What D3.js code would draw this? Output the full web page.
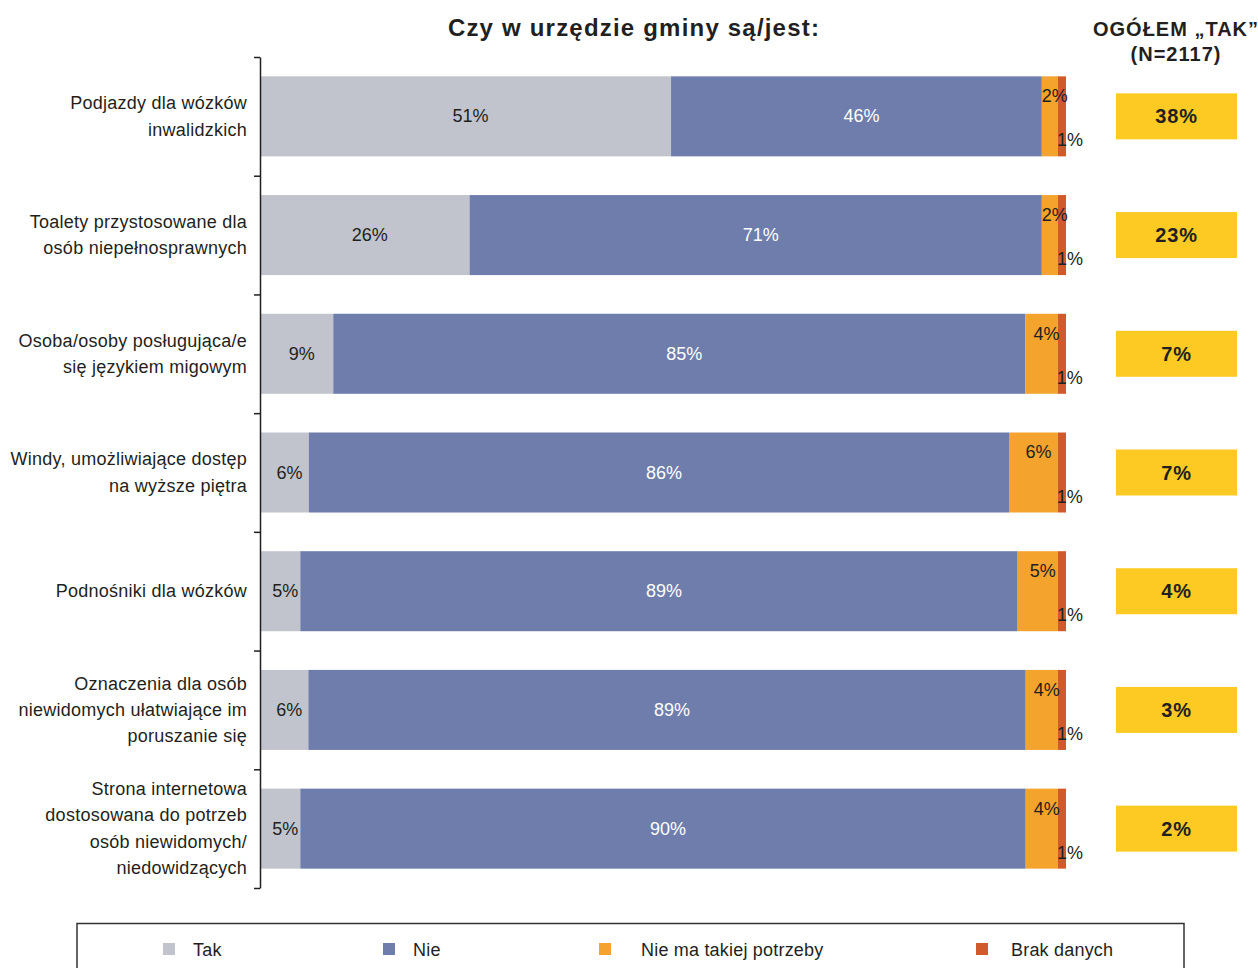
<!DOCTYPE html>
<html><head><meta charset="utf-8">
<script src="https://cdn.jsdelivr.net/npm/d3@7"></script>
<style>
body{margin:0;background:#fff;}
svg{display:block;font-family:"Liberation Sans",Arial,Helvetica,sans-serif;}
</style></head>
<body>
<svg id="chart" width="1258" height="968"></svg>
<script>
const categories = [
  ["Podjazdy dla wózków", "inwalidzkich"],
  ["Toalety przystosowane dla", "osób niepełnosprawnych"],
  ["Osoba/osoby posługująca/e", "się językiem migowym"],
  ["Windy, umożliwiające dostęp", "na wyższe piętra"],
  ["Podnośniki dla wózków"],
  ["Oznaczenia dla osób", "niewidomych ułatwiające im", "poruszanie się"],
  ["Strona internetowa", "dostosowana do potrzeb", "osób niewidomych/", "niedowidzących"]
];
const seriesNames = ["Tak", "Nie", "Nie ma takiej potrzeby", "Brak danych"];
const tak = [51, 26, 9, 6, 5, 6, 5];
const nie = [46, 71, 85, 86, 89, 89, 90];
const nieMaPotrzeby = [2, 2, 4, 6, 5, 4, 4];
const brakDanych = [1, 1, 1, 1, 1, 1, 1];
const ogolemTak = [38, 23, 7, 7, 4, 3, 2];
const title = "Czy w urzędzie gminy są/jest:";
const sideHeader = ["OGÓŁEM „TAK”", "(N=2117)"];
const colors = ["#c1c4cc", "#6e7dab", "#f4a32d", "#d05a2b"];
const textDark = "#231f20";

const keys = ["tak", "nie", "potrzeba", "brak"];
const rows = categories.map((c, i) => ({
  idx: i, tak: tak[i], nie: nie[i], potrzeba: nieMaPotrzeby[i], brak: brakDanych[i]
}));

const svg = d3.select("#chart");
const x = d3.scaleLinear().domain([0, 1]).range([260, 1066]);
const y = d3.scaleBand().domain(d3.range(categories.length)).range([57, 888])
  .paddingInner(0.326).paddingOuter(0.163);
const color = d3.scaleOrdinal().domain(keys).range(colors);

const stack = d3.stack().keys(keys).offset(d3.stackOffsetExpand);
const stacked = stack(rows);

// Title
svg.append("text").attr("x", 634).attr("y", 36).attr("text-anchor", "middle")
  .attr("font-size", 24).attr("font-weight", "bold").attr("letter-spacing", 1.2)
  .attr("fill", textDark).text(title);

// Side header
svg.selectAll("text.sideh").data(sideHeader).join("text")
  .attr("class", "sideh").attr("x", 1176).attr("y", (d, i) => 36 + i * 25)
  .attr("text-anchor", "middle").attr("font-size", 20).attr("font-weight", "bold")
  .attr("letter-spacing", 1).attr("fill", textDark).text(d => d);

// Bars
const g = svg.append("g");
const layers = g.selectAll("g.layer").data(stacked).join("g")
  .attr("class", "layer").attr("fill", d => color(d.key));
layers.selectAll("rect").data(d => d).join("rect")
  .attr("x", d => x(d[0])).attr("y", d => y(d.data.idx))
  .attr("width", d => x(d[1]) - x(d[0])).attr("height", y.bandwidth());

// Axis with ticks at band boundaries
const yb = d3.scalePoint().domain(d3.range(categories.length + 1)).range([57, 888]);
const axis = svg.append("g").attr("transform", "translate(260,0)")
  .call(d3.axisLeft(yb).tickSize(6).tickSizeOuter(0).tickFormat(""));
axis.select(".domain").attr("stroke", textDark).attr("stroke-width", 1.5);
axis.selectAll(".tick line").attr("stroke", textDark).attr("stroke-width", 1.5);

// Category labels
const catG = svg.append("g");
categories.forEach((lines, i) => {
  const cy = y(i) + y.bandwidth() / 2;
  const lh = 26.3;
  const t = catG.append("text").attr("text-anchor", "end").attr("font-size", 18)
    .attr("letter-spacing", 0.25).attr("fill", textDark);
  lines.forEach((ln, j) => {
    t.append("tspan").attr("x", 247)
      .attr("y", cy + 6 + (j - (lines.length - 1) / 2) * lh).text(ln);
  });
});

// Segment labels
const lab = svg.append("g").attr("font-size", 18);
stacked.forEach((layer, k) => {
  layer.forEach(d => {
    const v = d.data[layer.key];
    const top = y(d.data.idx), bot = top + y.bandwidth();
    const mid = (x(d[0]) + x(d[1])) / 2 + 5;
    if (k === 0 || k === 1) {
      lab.append("text").attr("x", mid).attr("y", top + y.bandwidth() / 2 + 6)
        .attr("text-anchor", "middle").attr("fill", k === 1 ? "#ffffff" : textDark)
        .text(v + "%");
    } else if (k === 2) {
      lab.append("text").attr("x", mid).attr("y", top + 26)
        .attr("text-anchor", "middle").attr("fill", textDark).text(v + "%");
    } else {
      lab.append("text").attr("x", x(d[0]) - 1).attr("y", bot - 10)
        .attr("text-anchor", "start").attr("fill", textDark).text(v + "%");
    }
  });
});

// OGÓŁEM TAK boxes
const boxes = svg.append("g").selectAll("g").data(ogolemTak).join("g")
  .attr("transform", (d, i) => `translate(1116,${y(i) + y.bandwidth() / 2 - 23})`);
boxes.append("rect").attr("width", 121).attr("height", 46).attr("fill", "#fcca23");
boxes.append("text").attr("x", 60.5).attr("y", 30).attr("text-anchor", "middle")
  .attr("font-size", 20).attr("font-weight", "bold").attr("letter-spacing", 0.8)
  .attr("fill", textDark).text(d => d + "%");

// Legend
svg.append("rect").attr("x", 77).attr("y", 923.5).attr("width", 1107).attr("height", 60)
  .attr("fill", "none").attr("stroke", "#333").attr("stroke-width", 1.5);
const legX = [163, 383, 599, 976];
const leg = svg.append("g").selectAll("g").data(seriesNames).join("g")
  .attr("transform", (d, i) => `translate(${legX[i]},943)`);
leg.append("rect").attr("width", 12).attr("height", 12).attr("fill", (d, i) => colors[i]);
leg.append("text").attr("x", (d, i) => i === 2 ? 42 : (i === 3 ? 35 : 30)).attr("y", 13)
  .attr("font-size", 18).attr("letter-spacing", 0.2).attr("fill", textDark).text(d => d);
</script>
</body></html>
